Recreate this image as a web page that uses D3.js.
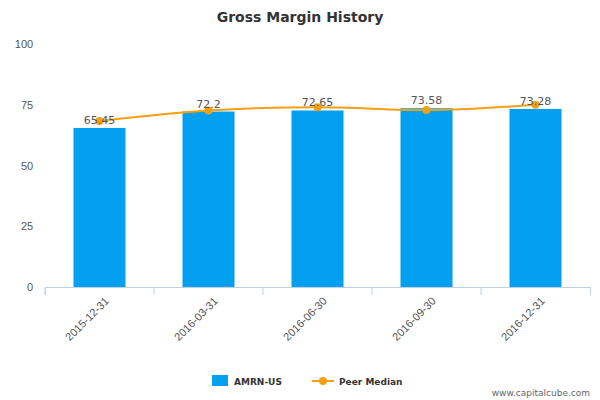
<!DOCTYPE html>
<html><head><meta charset="utf-8">
<script src="https://cdn.jsdelivr.net/npm/d3@7"></script>
<style>body{margin:0;background:#fff;font-family:"DejaVu Sans",sans-serif;}</style>
</head><body><div id="chart"></div>
<script>
var dates = ["2015-12-31","2016-03-31","2016-06-30","2016-09-30","2016-12-31"];
var amrn = [65.45, 72.2, 72.65, 73.58, 73.28];
var peer = [68.3, 72.6, 74.0, 72.8, 75.0];
var yTicks = [0, 25, 50, 75, 100];

var margin = {left: 45, right: 10, top: 44, bottom: 113};
var width = 600 - margin.left - margin.right,
    height = 400 - margin.top - margin.bottom;

var svg = d3.select("#chart").append("svg")
    .attr("width", 600).attr("height", 400)
  .append("g")
    .attr("transform", "translate(" + margin.left + "," + margin.top + ")");

svg.append("text")
  .attr("x", 300 - margin.left).attr("y", -22)
  .attr("text-anchor", "middle")
  .attr("font-size", "14px").attr("font-weight", "bold")
  .attr("fill", "#333")
  .text("Gross Margin History");

var x = d3.scaleBand().domain(dates).range([0, width]);
var y = d3.scaleLinear().domain([0, 100]).range([height, 0]);

// x axis
var xAxis = svg.append("g")
  .attr("transform", "translate(0," + height + ")")
  .call(d3.axisBottom(x).tickSizeOuter(0).tickSize(8))
  .call(g => g.select(".domain").attr("stroke", "#c0d0e0"));
xAxis.selectAll("line").attr("stroke", "#c0d0e0").attr("transform", function(d){ return "translate(" + (-x.bandwidth()/2) + ",0)"; });
xAxis.selectAll("text")
  .attr("fill", "#555").attr("font-size", "11px")
  .style("text-anchor", "end")
  .attr("dx", "-.3em").attr("dy", ".6em")
  .attr("transform", "rotate(-45)");

// y axis
var yAxis = svg.append("g")
  .call(d3.axisLeft(y).tickValues(yTicks).tickSize(0))
  .call(g => g.select(".domain").remove());
yAxis.selectAll("text").attr("fill", "#555").attr("font-size", "11px").attr("dx", "-0.8em");

// bars
var bw = 52;
svg.selectAll("rect.bar").data(amrn).enter().append("rect")
  .attr("class", "bar")
  .attr("x", (d, i) => x(dates[i]) + x.bandwidth()/2 - bw/2)
  .attr("width", bw)
  .attr("y", d => y(d))
  .attr("height", d => height - y(d))
  .attr("fill", "#039ff0");

// peer median line
var line = d3.line()
  .x((d, i) => x(dates[i]) + x.bandwidth()/2)
  .y(d => y(d))
  .curve(d3.curveMonotoneX);
svg.append("path").datum(peer)
  .attr("d", line).attr("fill", "none")
  .attr("stroke", "#f5a012").attr("stroke-width", 2);
svg.selectAll("circle.pt").data(peer).enter().append("circle")
  .attr("cx", (d, i) => x(dates[i]) + x.bandwidth()/2)
  .attr("cy", d => y(d)).attr("r", 4)
  .attr("fill", "#f5a012");

// value labels
svg.selectAll("text.val").data(amrn).enter().append("text")
  .attr("x", (d, i) => x(dates[i]) + x.bandwidth()/2)
  .attr("y", d => y(d) - 4)
  .attr("text-anchor", "middle")
  .attr("font-size", "11px").attr("fill", "#555")
  .text(d => d);

// legend
var lg = svg.append("g").attr("transform", "translate(" + (212 - margin.left) + "," + (381 - margin.top) + ")");
lg.append("rect").attr("x", 0).attr("y", -6).attr("width", 16).attr("height", 11).attr("fill", "#039ff0");
lg.append("text").attr("x", 22).attr("y", 4).attr("font-size", "9px").attr("font-weight", "bold").attr("fill", "#333").text("AMRN-US");
lg.append("line").attr("x1", 100).attr("x2", 122).attr("y1", 0).attr("y2", 0).attr("stroke", "#f5a012").attr("stroke-width", 2);
lg.append("circle").attr("cx", 111).attr("cy", 0).attr("r", 4).attr("fill", "#f5a012");
lg.append("text").attr("x", 127).attr("y", 4).attr("font-size", "9px").attr("font-weight", "bold").attr("fill", "#333").text("Peer Median");

d3.select("svg").append("text")
  .attr("x", 590).attr("y", 396).attr("text-anchor", "end")
  .attr("font-size", "9px").attr("fill", "#666")
  .text("www.capitalcube.com");
</script>
</body></html>
